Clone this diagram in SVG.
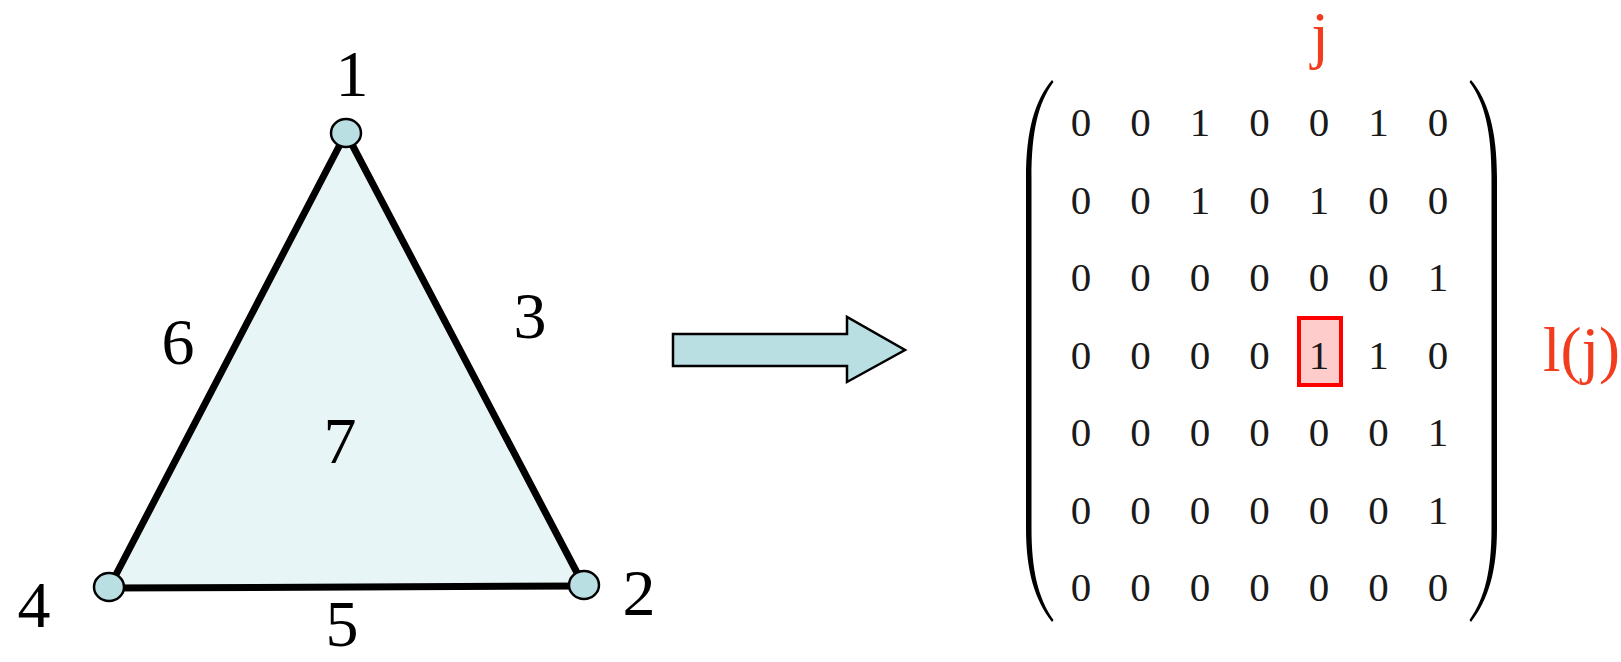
<svg xmlns="http://www.w3.org/2000/svg" width="1621" height="662" viewBox="0 0 1621 662">
<style>
.lbl{font-family:"Liberation Serif","Times New Roman",serif;font-size:66px;fill:#000;text-anchor:middle}
.num{font-family:"Liberation Serif","Times New Roman",serif;font-size:41px;fill:#1a1a1a;text-anchor:middle}
.red{font-family:"Liberation Serif","Times New Roman",serif;font-size:63px;fill:#F23C1E}
.edge{stroke:#000;stroke-width:7;stroke-linecap:round;fill:none}
.vert{fill:#B9DFE2;stroke:#000;stroke-width:2.5}
</style>
<rect width="1621" height="662" fill="#fff"/>
<g id="face">
<polygon points="346,133 584,586 109,588" fill="#E8F5F6"/>
<text class="lbl" x="340" y="463">7</text>
</g>
<g id="connectors">
<line class="edge" x1="346" y1="133" x2="584" y2="586"/>
<line class="edge" x1="584" y1="586" x2="109" y2="588"/>
<line class="edge" x1="109" y1="588" x2="346" y2="133"/>
<text class="lbl" x="530" y="338">3</text>
<text class="lbl" x="342" y="646">5</text>
<text class="lbl" x="178" y="364">6</text>
</g>
<g id="node-1">
<ellipse class="vert" cx="346" cy="133" rx="15" ry="14"/>
<text class="lbl" x="352" y="96">1</text>
</g>
<g id="node-2">
<ellipse class="vert" cx="584" cy="585" rx="15" ry="14"/>
<text class="lbl" x="639" y="615">2</text>
</g>
<g id="node-4">
<ellipse class="vert" cx="109" cy="587" rx="15" ry="14"/>
<text class="lbl" x="34" y="627">4</text>
</g>
<g id="arrow">
<polygon points="673,334 847,334 847,317 905,350 847,382 847,366 673,366" fill="#B9DFE2" stroke="#000" stroke-width="2.5" stroke-linejoin="miter"/>
</g>
<g id="matrix">
<path d="M1052,80 C1035,100 1026,130 1026,178 L1026,528 C1026,572 1035,600 1052,622 L1053.5,620 C1038,598 1031.5,570 1031.5,528 L1031.5,178 C1031.5,132 1038,103 1053.5,82 Z" fill="#000"/>
<path d="M1471,80 C1488,100 1497,130 1497,178 L1497,528 C1497,572 1488,600 1471,622 L1469.5,620 C1485,598 1491.5,570 1491.5,528 L1491.5,178 C1491.5,132 1485,103 1469.5,82 Z" fill="#000"/>
<rect x="1299" y="318" width="42" height="67" fill="#FFCCCC" stroke="#FF0000" stroke-width="4"/>
<g class="num">
<text x="1081" y="136">0</text><text x="1140.5" y="136">0</text><text x="1200" y="136">1</text><text x="1259.5" y="136">0</text><text x="1319" y="136">0</text><text x="1378.5" y="136">1</text><text x="1438" y="136">0</text>
<text x="1081" y="213.5">0</text><text x="1140.5" y="213.5">0</text><text x="1200" y="213.5">1</text><text x="1259.5" y="213.5">0</text><text x="1319" y="213.5">1</text><text x="1378.5" y="213.5">0</text><text x="1438" y="213.5">0</text>
<text x="1081" y="291">0</text><text x="1140.5" y="291">0</text><text x="1200" y="291">0</text><text x="1259.5" y="291">0</text><text x="1319" y="291">0</text><text x="1378.5" y="291">0</text><text x="1438" y="291">1</text>
<text x="1081" y="368.5">0</text><text x="1140.5" y="368.5">0</text><text x="1200" y="368.5">0</text><text x="1259.5" y="368.5">0</text><text x="1319" y="368.5">1</text><text x="1378.5" y="368.5">1</text><text x="1438" y="368.5">0</text>
<text x="1081" y="446">0</text><text x="1140.5" y="446">0</text><text x="1200" y="446">0</text><text x="1259.5" y="446">0</text><text x="1319" y="446">0</text><text x="1378.5" y="446">0</text><text x="1438" y="446">1</text>
<text x="1081" y="523.5">0</text><text x="1140.5" y="523.5">0</text><text x="1200" y="523.5">0</text><text x="1259.5" y="523.5">0</text><text x="1319" y="523.5">0</text><text x="1378.5" y="523.5">0</text><text x="1438" y="523.5">1</text>
<text x="1081" y="601">0</text><text x="1140.5" y="601">0</text><text x="1200" y="601">0</text><text x="1259.5" y="601">0</text><text x="1319" y="601">0</text><text x="1378.5" y="601">0</text><text x="1438" y="601">0</text>
</g>
<text class="red" x="1320" y="56" text-anchor="middle">j</text>
<text class="red" x="1543" y="371">l(j)</text>
</g>
</svg>
